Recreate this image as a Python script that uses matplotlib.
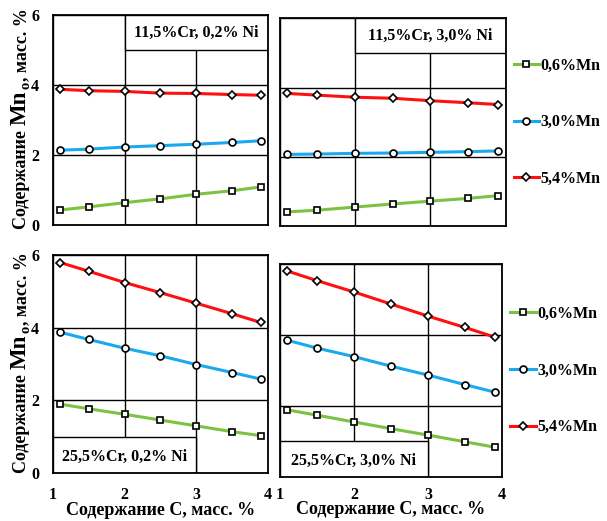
import matplotlib
matplotlib.use("Agg")
import matplotlib.pyplot as plt
from matplotlib.patches import Rectangle

plt.rcParams['font.family'] = ['Liberation Serif', 'DejaVu Serif']
plt.rcParams['font.weight'] = 'bold'

# содержание углерода, масс. %
c = [1.1, 1.5, 2.0, 2.5, 3.0, 3.5, 3.9]

# 11,5%Cr, 0,2% Ni
mn06_a = [0.43, 0.52, 0.64, 0.75, 0.88, 0.98, 1.09]
mn30_a = [2.14, 2.17, 2.23, 2.27, 2.31, 2.36, 2.41]
mn54_a = [3.88, 3.84, 3.82, 3.77, 3.76, 3.73, 3.71]
# 11,5%Cr, 3,0% Ni
mn06_b = [0.41, 0.46, 0.55, 0.64, 0.72, 0.80, 0.88]
mn30_b = [2.07, 2.08, 2.10, 2.11, 2.13, 2.15, 2.17]
mn54_b = [3.83, 3.78, 3.72, 3.69, 3.62, 3.56, 3.51]
# 25,5%Cr, 0,2% Ni
mn06_c = [1.90, 1.77, 1.62, 1.46, 1.30, 1.14, 1.03]
mn30_c = [3.88, 3.68, 3.44, 3.23, 2.99, 2.77, 2.59]
mn54_c = [5.80, 5.56, 5.25, 4.97, 4.68, 4.39, 4.15]
# 25,5%Cr, 3,0% Ni
mn06_d = [1.89, 1.74, 1.55, 1.36, 1.18, 0.99, 0.84]
mn30_d = [3.85, 3.63, 3.39, 3.12, 2.87, 2.60, 2.39]
mn54_d = [5.80, 5.53, 5.21, 4.87, 4.53, 4.21, 3.94]

series_labels = ['0,6%Mn', '3,0%Mn', '5,4%Mn']
panel_titles = ['11,5%Cr, 0,2% Ni', '11,5%Cr, 3,0% Ni',
                '25,5%Cr, 0,2% Ni', '25,5%Cr, 3,0% Ni']
x_ticks = [1, 2, 3, 4]
y_ticks = [0, 2, 4, 6]

colors = ['#7cc242', '#1aa9ef', '#ff1010']
markers = ['s', 'o', 'D']
msizes = [4.5, 5, 4]

fig = plt.figure(figsize=(6.07, 5.21), dpi=100)

positions = [
    [0.0873, 0.568, 0.354, 0.403],
    [0.461, 0.566, 0.372, 0.399],
    [0.0873, 0.092, 0.354, 0.418],
    [0.461, 0.0845, 0.366, 0.409],
]
data = [
    (mn06_a, mn30_a, mn54_a),
    (mn06_b, mn30_b, mn54_b),
    (mn06_c, mn30_c, mn54_c),
    (mn06_d, mn30_d, mn54_d),
]
# рамки с подписями: (x0, y0, ширина, высота, x текста, y текста)
boxes = [
    (2, 5, 2, 1, 3.0, 5.5),
    (2, 5, 2, 1, 3.0, 5.5),
    (1, 0, 2, 1, 2.0, 0.45),
    (1, 0, 2, 1, 2.0, 0.45),
]
# отступы подписей делений оси X (нижняя правая ось ниже)
x_pads = [10, 10, 10, 7]

axes = []
for i in range(4):
    ax = fig.add_axes(positions[i])
    ax.set_xlim(1, 4)
    ax.set_ylim(0, 6)
    ax.set_xticks(x_ticks)
    ax.set_yticks(y_ticks)
    ax.set_axisbelow(True)
    ax.grid(True, color='black', lw=1.0)
    for s in ax.spines.values():
        s.set_linewidth(1.3)
    ax.tick_params(length=0, labelsize=11.5, pad=10)
    ax.tick_params(axis='x', pad=x_pads[i])

    for j in range(3):
        ax.plot(c, data[i][j], color=colors[j], lw=2.2, marker=markers[j],
                ms=msizes[j], mfc='white', mec='black', mew=1.2, zorder=3,
                label=series_labels[j])

    bx = boxes[i]
    ax.add_patch(Rectangle((bx[0], bx[1]), bx[2], bx[3], facecolor='white',
                           edgecolor='black', lw=1.0, zorder=1))
    ax.text(bx[4], bx[5], panel_titles[i], ha='center', va='center',
            fontsize=11.5, fontweight='bold', zorder=4)

    if i < 2:
        ax.set_xticklabels([])
    else:
        ax.set_xlabel('Содержание С, масс. %', fontsize=13, fontweight='bold',
                      labelpad=-1)
    if i % 2 == 1:
        ax.set_yticklabels([])
        ax.legend(loc='center left', bbox_to_anchor=(1.0, 0.5), frameon=False,
                  fontsize=11.5, labelspacing=2.55, handlelength=1.6,
                  handletextpad=0.1, borderaxespad=0.3, borderpad=0.2)
    axes.append(ax)

# подпись оси Y из кусков (крупное Mn и подстрочный индекс)
fig.canvas.draw()
renderer = fig.canvas.get_renderer()
H = fig.bbox.height
W = fig.bbox.width


def ylabel_parts(x, y_center):
    parts = [('Содержание ', 13, 0), ('Mn', 16.5, 0), ('o', 10.5, 3), (', масс. %', 13, 0)]
    texts = []
    total = 0
    for s, size, dx in parts:
        t = fig.text(0, 0, s, rotation=90, rotation_mode='anchor', ha='left',
                     va='baseline', fontsize=size, fontweight='bold')
        h = t.get_window_extent(renderer).height + 1
        texts.append((t, h, dx))
        total += h
    y = y_center - total / 2
    for t, h, dx in texts:
        t.set_position(((x + dx) / W, y / H))
        y += h


ylabel_parts(26, H - 118)
ylabel_parts(26, H - 362)

fig.savefig('out.png', dpi=100)
